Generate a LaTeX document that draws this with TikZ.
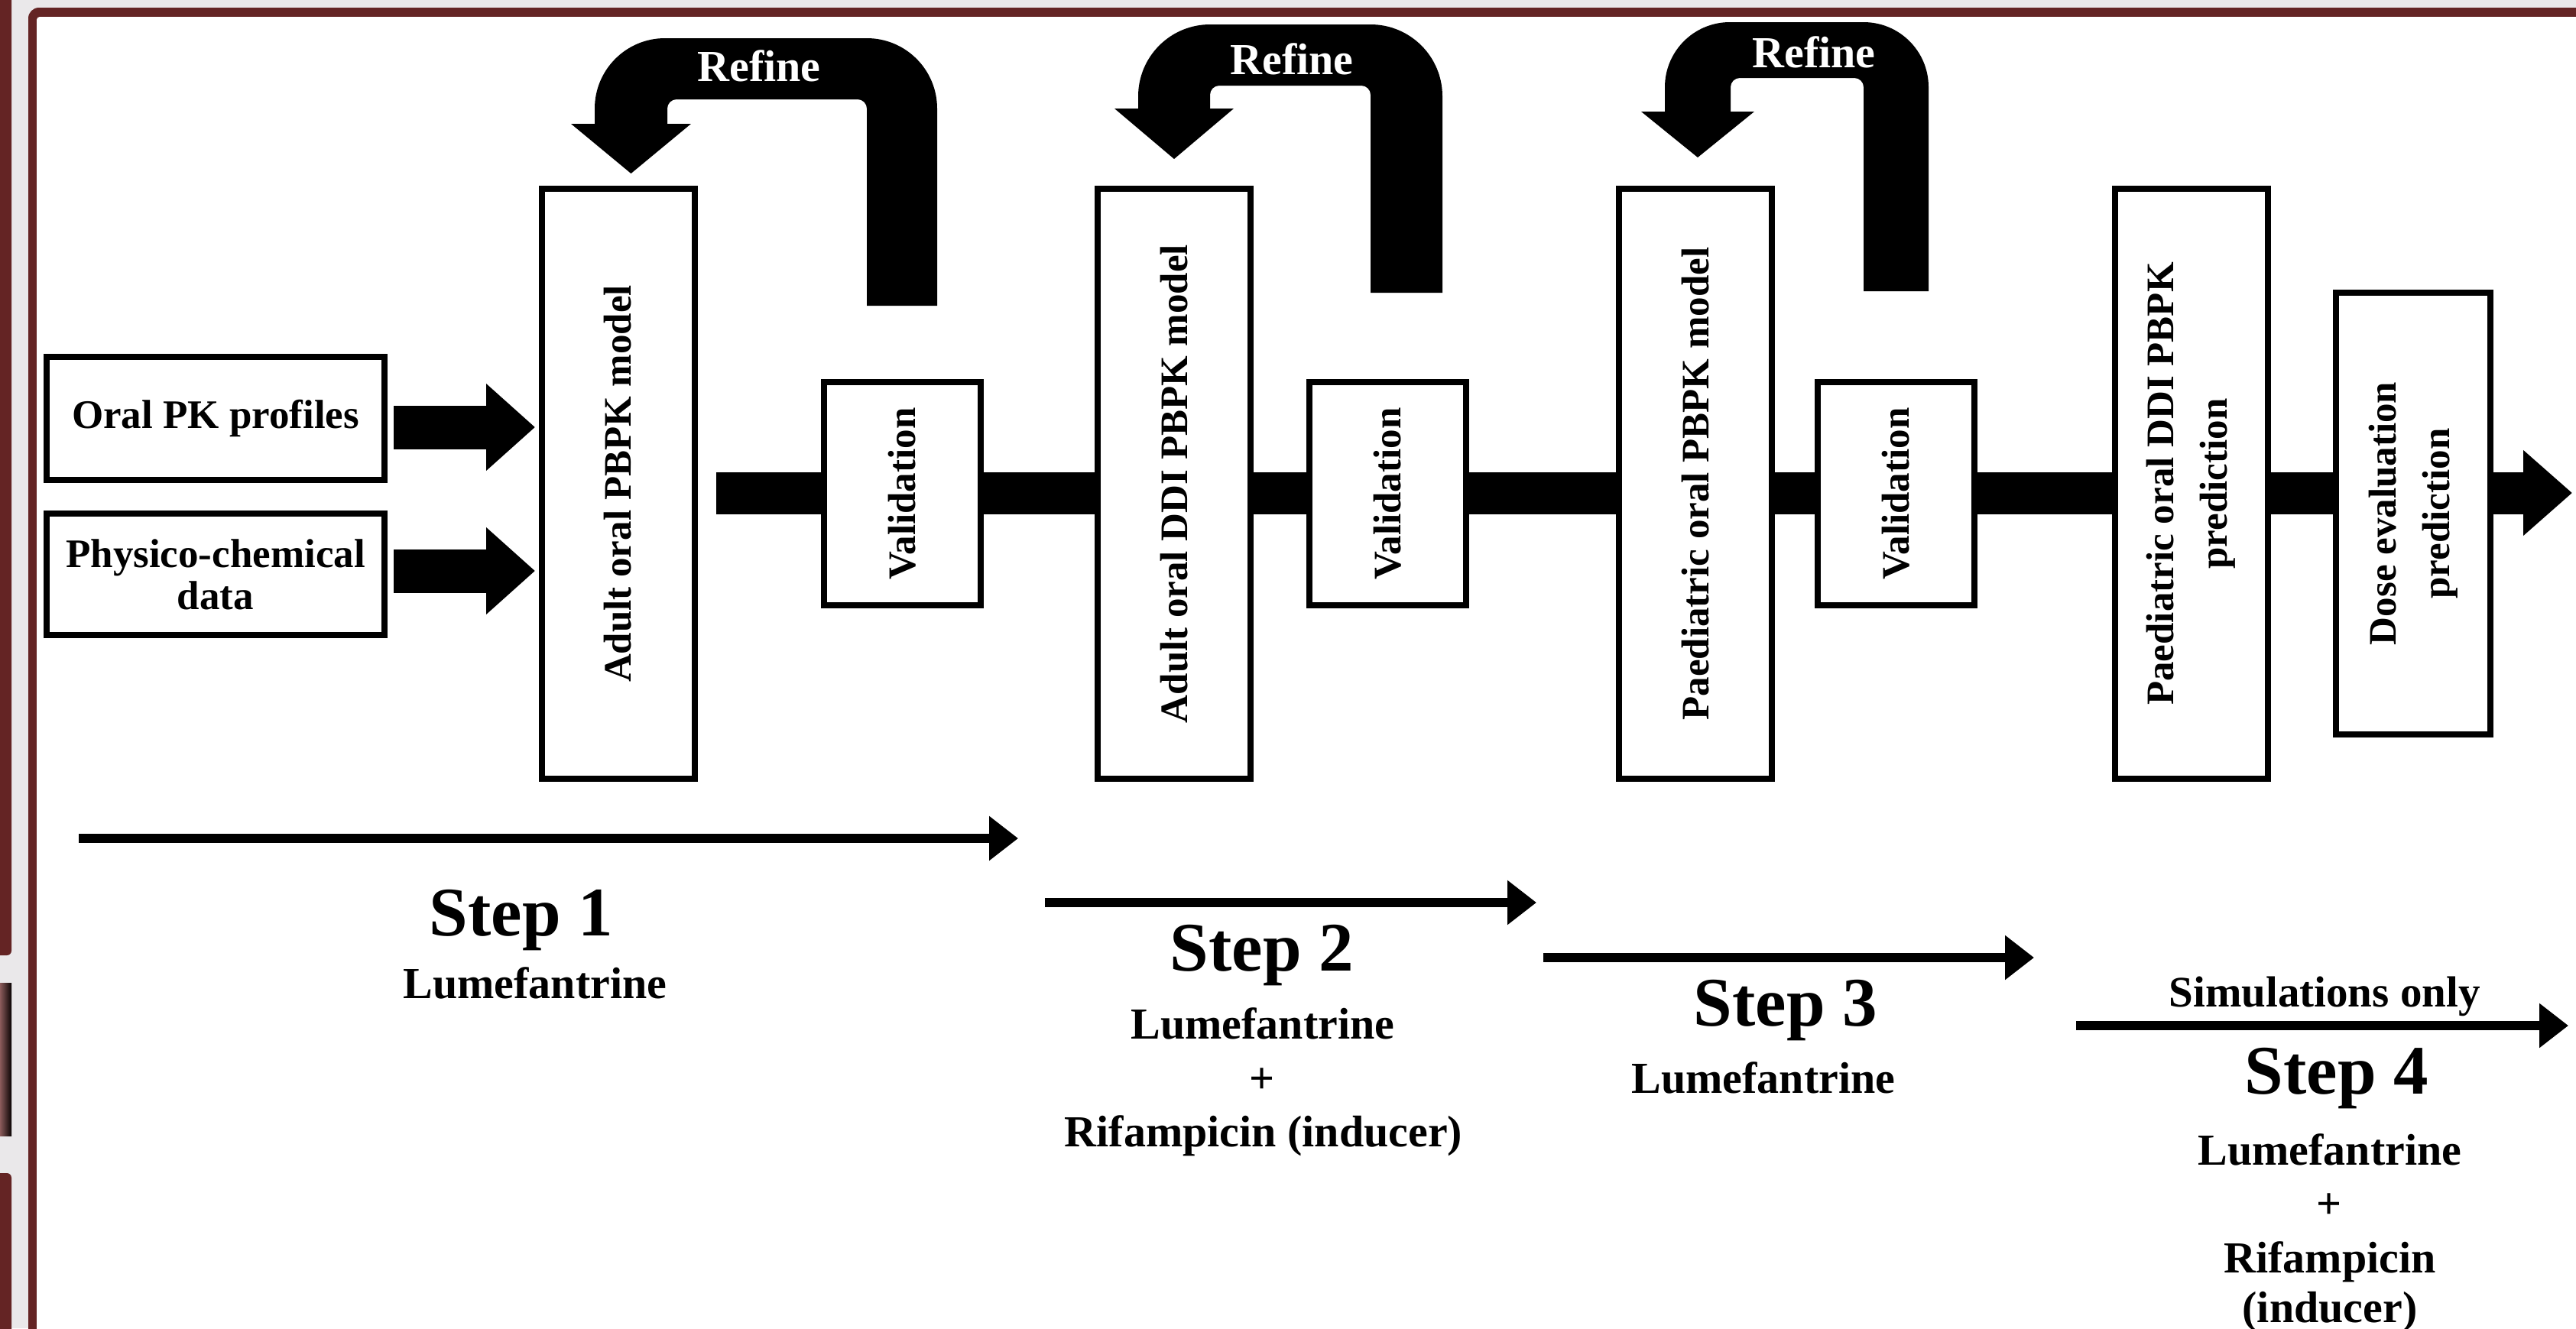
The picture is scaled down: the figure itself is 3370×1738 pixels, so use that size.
\documentclass[tikz,border=0pt]{standalone}
\usepackage{fontspec}
\setmainfont{Liberation Serif}
\usetikzlibrary{arrows.meta,calc}
\definecolor{framered}{HTML}{642424}
\definecolor{bggray}{HTML}{EAE8EA}
\newcommand{\bxfont}{\fontsize{51}{70}\selectfont\bfseries}
\newcommand{\inpfont}{\fontsize{53}{55}\selectfont\bfseries}
\newcommand{\stepfont}{\fontsize{91}{100}\selectfont\bfseries}
\newcommand{\drugfont}{\fontsize{58}{70}\selectfont\bfseries}
\newcommand{\simfont}{\fontsize{57}{60}\selectfont\bfseries}
\newcommand{\reffont}{\fontsize{58}{60}\selectfont\bfseries}
% #1 Lxo #2 Lxi #3 Rxi #4 Rxo #5 ytop #6 yinner #7 ybottom #8 yheadbase #9 ytip
\newcommand{\refinearrow}[9]{%
  \pgfmathsetmacro\rfR{#4-#3}%
  \pgfmathsetmacro\rfk{0.552*\rfR}%
  \pgfmathsetmacro\rfc{(#1+#2)/2}%
  \pgfmathsetmacro\rfh{(#2-#1)/2+31}%
  \fill[black] (#4,#7) -- (#4,#5+\rfR)
    .. controls (#4,#5+\rfR-\rfk) and (#4-\rfR+\rfk,#5) .. (#4-\rfR,#5)
    -- (#1+\rfR,#5)
    .. controls (#1+\rfR-\rfk,#5) and (#1,#5+\rfR-\rfk) .. (#1,#5+\rfR)
    -- (#1,#8) -- (\rfc-\rfh,#8) -- (\rfc,#9) -- (\rfc+\rfh,#8) -- (#2,#8)
    -- (#2,#6+12) .. controls (#2,#6+5.4) and (#2+5.4,#6) .. (#2+12,#6)
    -- (#3-12,#6) .. controls (#3-5.4,#6) and (#3,#6+5.4) .. (#3,#6+12)
    -- (#3,#7) -- cycle;}
\begin{document}
\begin{tikzpicture}[x=1pt,y=-1pt,
  box/.style={draw=black, line width=8pt, fill=white, inner sep=0pt, align=center, font=\bxfont},
  inbox/.style={box, font=\inpfont, minimum width=442pt},
  tallbox/.style={box, rotate=90, minimum width=772pt, minimum height=200pt},
  valbox/.style={box, rotate=90, minimum width=292pt, minimum height=205pt},
  fatarrow/.style={line width=57pt, -{Triangle[length=64pt,width=110pt]}},
  mainbar/.style={line width=55pt, -{Triangle[length=64pt,width=108pt]}},
  thinarrow/.style={line width=12pt, -{Triangle[length=38pt,width=56pt]}},
  steptxt/.style={font=\stepfont, anchor=base, inner sep=0pt},
  drugtxt/.style={font=\drugfont, anchor=base, inner sep=0pt},
  reftxt/.style={font=\reffont, text=white, anchor=base, inner sep=0pt}]
\useasboundingbox (0,0) rectangle (3370,1738);
% background and frame
\fill[bggray] (0,0) rectangle (3370,1738);
\fill[framered, rounded corners=6pt] (-20,-20) rectangle (15,1250);
\shade[left color=framered!75!white, right color=black!90!framered] (0,1286) rectangle (15,1486);
\fill[framered, rounded corners=6pt] (-20,1535) rectangle (15,1780);
\fill[framered, rounded corners=14pt] (37,10) rectangle (3420,1790);
\fill[white, rounded corners=4pt] (48,22) rectangle (3420,1790);
% main bar
\coordinate (barS) at (937,645);
\coordinate (barE) at (3365,645);
\draw[mainbar] (barS) -- (barE);
% boxes
\node[inbox, minimum height=161pt] (oral) at (282,547.5) {Oral PK profiles};
\node[inbox, minimum height=159pt] (phys) at (282,751.5) {Physico-chemical\\data};
\node[tallbox] (adult) at (808.5,633) {Adult oral PBPK model};
\node[valbox] (val1) at (1180.5,646) {Validation};
\node[tallbox] (ddi) at (1536,633) {Adult oral DDI PBPK model};
\node[valbox] (val2) at (1815,646) {Validation};
\node[tallbox] (ped) at (2218,633) {Paediatric oral PBPK model};
\node[valbox] (val3) at (2480,646) {Validation};
\node[tallbox] (pddi) at (2866.5,633) {Paediatric oral DDI PBPK\\prediction};
\node[box, rotate=90, minimum width=578pt, minimum height=202pt] (dose) at (3157,672) {Dose evaluation\\prediction};
% input arrows
\draw[fatarrow] ($(oral.east)+(8,11.5)$) -- ($(oral.east -| adult.north)+(-4.5,11.5)$);
\draw[fatarrow] ($(phys.east)+(8,-4.5)$) -- ($(phys.east -| adult.north)+(-4.5,-4.5)$);
% refine arrows
\refinearrow{778}{873}{1134}{1226}{50}{130}{400}{162}{227}
\refinearrow{1489}{1583}{1793}{1887}{32}{112}{383}{142}{208}
\refinearrow{2178}{2264}{2438}{2523}{29}{102}{381}{146}{206}
\node[reftxt] (ref1) at (993,106) {Refine};
\node[reftxt] (ref2) at (1690,97) {Refine};
\node[reftxt] (ref3) at (2373,88) {Refine};
% step arrows
\coordinate (s1a) at (103,1097); \coordinate (s1b) at (1332,1097);
\coordinate (s2a) at (1367,1181); \coordinate (s2b) at (2010,1181);
\coordinate (s3a) at (2019,1253); \coordinate (s3b) at (2661,1253);
\coordinate (s4a) at (2716,1342); \coordinate (s4b) at (3360,1342);
\draw[thinarrow] (s1a) -- (s1b);
\draw[thinarrow] (s2a) -- (s2b);
\draw[thinarrow] (s3a) -- (s3b);
\draw[thinarrow] (s4a) -- (s4b);
% step texts
\node[steptxt] (st1) at (682,1224) {Step 1};
\node[drugtxt] (d1) at (700,1306) {Lumefantrine};
\node[steptxt] (st2) at (1651,1270) {Step 2};
\node[drugtxt] (d2a) at (1652,1359) {Lumefantrine};
\node[drugtxt] (d2b) at (1651,1430) {+};
\node[drugtxt] (d2c) at (1653,1500) {Rifampicin (inducer)};
\node[steptxt] (st3) at (2336,1342) {Step 3};
\node[drugtxt] (d3) at (2307,1430) {Lumefantrine};
\node[font=\simfont, anchor=base, inner sep=0pt] (sim) at (3041,1317) {Simulations only};
\node[steptxt] (st4) at (3057,1431) {Step 4};
\node[drugtxt] (d4a) at (3048,1524) {Lumefantrine};
\node[drugtxt] (d4b) at (3047,1594) {+};
\node[drugtxt] (d4c) at (3048,1665) {Rifampicin};
\node[drugtxt] (d4d) at (3048,1730) {(inducer)};
\end{tikzpicture}
\end{document}
